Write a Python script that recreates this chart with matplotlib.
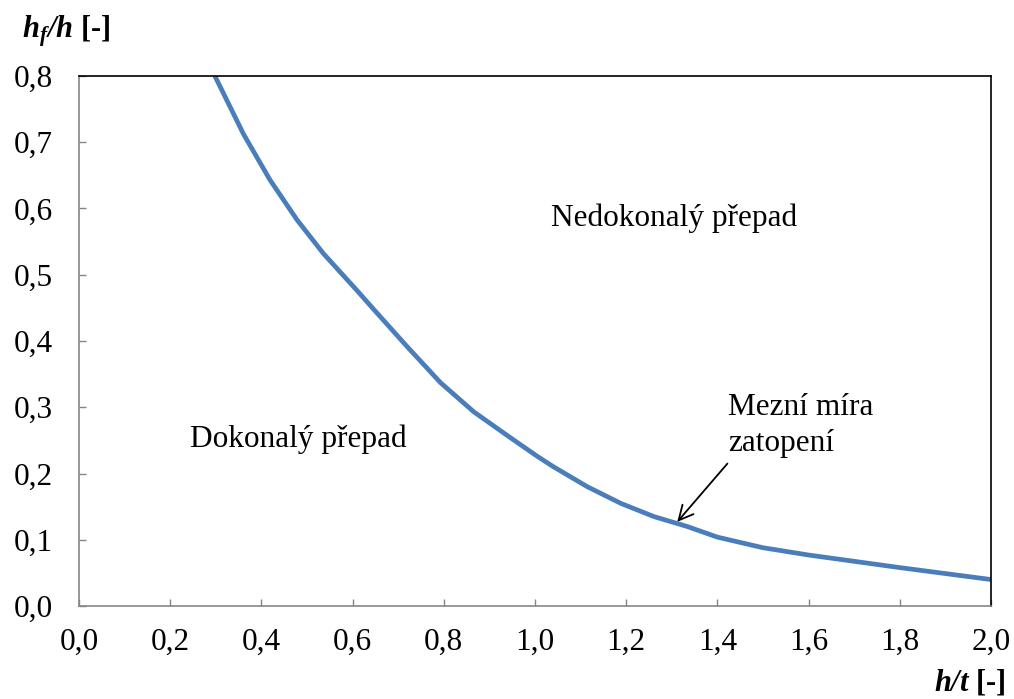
import numpy as np
import matplotlib.pyplot as plt

plt.rcParams["font.family"] = "Liberation Serif"
plt.rcParams["mathtext.fontset"] = "custom"
plt.rcParams["mathtext.rm"] = "Liberation Serif"
plt.rcParams["mathtext.it"] = "Liberation Serif:italic"
plt.rcParams["mathtext.bf"] = "Liberation Serif:bold"
plt.rcParams["mathtext.bfit"] = "Liberation Serif:italic:bold"

# curve
h_t = [0.298, 0.361, 0.419, 0.478, 0.536, 0.610, 0.646, 0.719, 0.793,
       0.866, 0.940, 1.005, 1.041, 1.115, 1.188, 1.261, 1.334, 1.40,
       1.50, 1.60, 1.80, 2.00]
hf_h = [0.800, 0.712, 0.643, 0.583, 0.532, 0.476, 0.448, 0.392, 0.337,
        0.293, 0.257, 0.226, 0.210, 0.180, 0.155, 0.135, 0.120, 0.104,
        0.088, 0.077, 0.058, 0.040]

x_ticks = np.arange(0, 2.01, 0.2)
y_ticks = np.arange(0, 0.81, 0.1)
fs = 22.5

fig = plt.figure(figsize=(10.14, 6.99), dpi=100)
ax = fig.add_axes([0.0779, 0.1330, 0.8994, 0.7583])

ax.plot(h_t, hf_h, color="#4a7ebb", linewidth=3.4, solid_joinstyle="round",
        solid_capstyle="butt")

ax.set_xlim(0, 2.0)
ax.set_ylim(0, 0.8)
ax.set_xticks(x_ticks)
ax.set_yticks(y_ticks)
ax.set_xticklabels([f"{v:.1f}".replace(".", ",") for v in x_ticks])
ax.set_yticklabels([f"{v:.1f}".replace(".", ",") for v in y_ticks])
ax.tick_params(direction="in", length=5, width=1, color="#868686",
               labelsize=fs)
ax.tick_params(axis="y", pad=19)
ax.tick_params(axis="x", pad=16)

for side in ["left", "bottom"]:
    ax.spines[side].set_color("#868686")
for side in ["top", "right"]:
    ax.spines[side].set_color("black")
for s in ax.spines.values():
    s.set_linewidth(1.2)

ax.text(1.306, 0.586, "Nedokonalý přepad", fontsize=fs, ha="center", va="center")
ax.text(0.481, 0.251, "Dokonalý přepad", fontsize=fs, ha="center", va="center")
ax.text(1.423, 0.299, "Mezní míra", fontsize=fs, ha="left", va="center")
ax.text(1.423, 0.246, "zatopení", fontsize=fs, ha="left", va="center")
ax.annotate("", xy=(1.312, 0.127), xytext=(1.422, 0.215),
            arrowprops=dict(arrowstyle="->", color="black", lw=1.3,
                            mutation_scale=26, shrinkA=0, shrinkB=0))

fig.text(0.022, 0.947, r"$\mathbfit{h}_{\mathbfit{f}}\mathbfit{/h}$ [-]",
         fontsize=22, fontweight="bold", ha="left", va="baseline")
fig.text(0.992, 0.023, r"$\mathbfit{h/t}$ [-]",
         fontsize=22, fontweight="bold", ha="right", va="center")

fig.savefig("out.png", dpi=100)
